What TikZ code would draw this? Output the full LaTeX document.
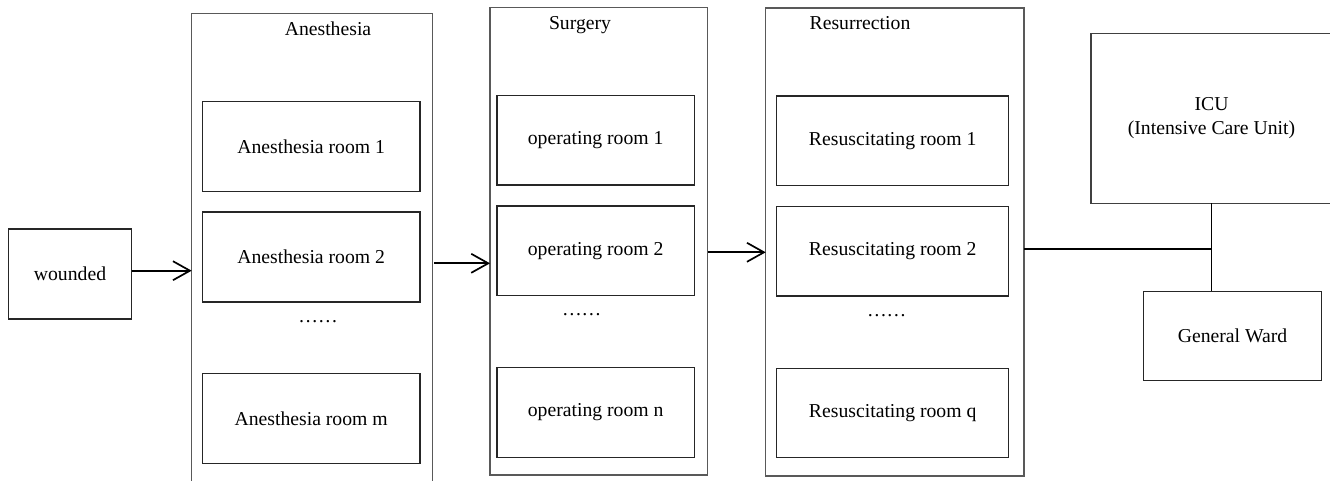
\documentclass[tikz,border=0pt]{standalone}
\usepackage{fontspec}
\setmainfont{Liberation Serif}
\usetikzlibrary{arrows.meta}
\begin{document}
\begin{tikzpicture}[x=1pt,y=-1pt,
  every node/.style={font=\fontsize{19.7}{24}\selectfont, inner sep=0pt, outer sep=0pt},
  outerbox/.style={draw=black!65, line width=1.1pt, rectangle},
  roombox/.style={draw=black!85, line width=1.1pt, rectangle, minimum height=90pt},
  flow/.style={draw=black, line width=1.7pt, -{Straight Barb[length=17pt,width=19pt,line width=1.7pt]}},
  link/.style={draw=black, line width=1.7pt},
  title/.style={anchor=base},
  dots/.style={anchor=base}]
\useasboundingbox (0,0) rectangle (1330,481);
\fill[white] (0,0) rectangle (1330,481);

% outer group boxes
\node[outerbox, minimum width=241pt, minimum height=481.3pt] (anes) at (312.2,254.35) {};
\node[outerbox, minimum width=217.7pt, minimum height=467.7pt] (surg) at (598.85,241.15) {};
\node[outerbox, minimum width=258.3pt, minimum height=468pt] (resur) at (894.85,242) {};

% titles
\node[title] (tAnes) at (328,35.7) {Anesthesia};
\node[title] (tSurg) at (580,30) {Surgery};
\node[title] (tResur) at (860,30) {Resurrection};

% wounded
\node[outerbox, draw=black!85, minimum width=123.4pt, minimum height=90pt] (wounded) at (70,274) {wounded};

% anesthesia rooms
\node[roombox, minimum width=217.7pt] (a1) at (311.15,146.7) {Anesthesia room 1};
\node[roombox, minimum width=217.7pt] (a2) at (311.15,257) {Anesthesia room 2};
\node[dots] (adots) at (318,322) {……};
\node[roombox, minimum width=217.7pt, minimum height=89.6pt] (am) at (311.15,418.5) {Anesthesia room m};

% operating rooms
\node[roombox, minimum width=197.3pt, minimum height=89.3pt] (o1) at (595.65,140.35) {operating room 1};
\node[roombox, minimum width=197.3pt, minimum height=89.7pt] (o2) at (595.65,250.85) {operating room 2};
\node[dots] (odots) at (581.7,315) {……};
\node[roombox, minimum width=197.3pt, minimum height=89.6pt] (on) at (595.65,412.5) {operating room n};

% resuscitating rooms
\node[roombox, minimum width=232pt, minimum height=89.7pt] (r1) at (892.7,140.85) {Resuscitating room 1};
\node[roombox, minimum width=232pt, minimum height=89.7pt] (r2) at (892.7,251.15) {Resuscitating room 2};
\node[dots] (rdots) at (886.7,316) {……};
\node[roombox, minimum width=232pt, minimum height=89.4pt] (rq) at (892.7,413) {Resuscitating room q};

% ICU and general ward
\node[outerbox, draw=black!75, minimum width=241pt, minimum height=170pt, align=center] (icu) at (1211.5,118.3) {ICU\\(Intensive Care Unit)};
\node[outerbox, draw=black!85, minimum width=178.4pt, minimum height=89.4pt] (gw) at (1232.5,336) {General Ward};

% connectors
\coordinate (w1) at (131.7,270.7);
\draw[flow] (w1) -- (w1 -| anes.west);
\coordinate (s1) at (434,263.3);
\draw[flow] (s1) -- (s1 -| surg.west);
\coordinate (s2) at (707.7,252.3);
\draw[flow] (s2 -| surg.east) -- (s2 -| resur.west);
\coordinate (j) at (icu.south |- 0,249.3);
\draw[link] (j -| resur.east) -- (j);
\draw[link] (icu.south) -- (icu.south |- gw.north);
\end{tikzpicture}
\end{document}
